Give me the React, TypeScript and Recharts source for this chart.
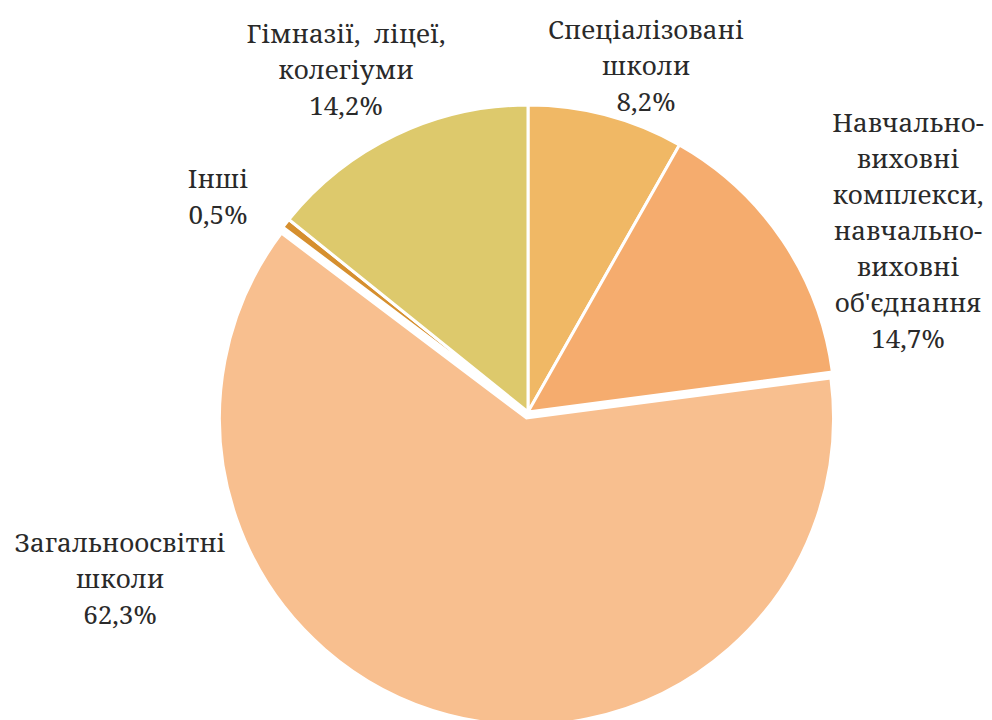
import { PieChart, Pie, Cell } from "recharts";

// Data (clockwise from 12 o'clock)
const categories = [
  "Спеціалізовані школи",
  "Навчально-виховні комплекси, навчально-виховні об'єднання",
  "Загальноосвітні школи",
  "Інші",
  "Гімназії, ліцеї, колегіуми",
];
const shares = [8.2, 14.7, 62.3, 0.5, 14.2];

// Label text broken into lines as in the original
const labelLines = [
  ["Спеціалізовані", "школи"],
  ["Навчально-", "виховні", "комплекси,", "навчально-", "виховні", "об'єднання"],
  ["Загальноосвітні", "школи"],
  ["Інші"],
  ["Гімназії,  ліцеї,", "колегіуми"],
];

const COLORS = ["#F0B865", "#F5AC6E", "#F8BF8F", "#D68F2E", "#DDC96C"];

// Label anchors relative to pie centre (layout only)
const LABEL_OFFSETS = [
  { dx: 118, dy: -373 },
  { dx: 380, dy: -280 },
  { dx: -408, dy: 140 },
  { dx: -310, dy: -224 },
  { dx: -182, dy: -369 },
];

const EXPLODED = 2; // index of the pulled-out slice

const data = categories.map((name, i) => ({ name, value: shares[i] }));

const fmt = (v: number) => v.toFixed(1).replace(".", ",") + "%";

const LINE_H = 36;
const FONT = "'Noto Serif', 'DejaVu Serif', serif";

const renderLabel = (props: any) => {
  const { cx, cy, index } = props;
  const off = LABEL_OFFSETS[index];
  const lines = [...labelLines[index], fmt(shares[index])];
  const x = cx + off.dx;
  const y = cy + off.dy;
  return (
    <text
      key={`lbl-${index}`}
      x={x}
      y={y}
      textAnchor="middle"
      fill="#2a2a2a"
      style={{ fontFamily: FONT, fontSize: 26 }}
    >
      {lines.map((l, j) => (
        <tspan key={j} x={x} y={y + j * LINE_H} style={{ whiteSpace: "pre" }}>
          {l}
        </tspan>
      ))}
    </text>
  );
};

export default function App() {
  return (
    <div style={{ position: "absolute", left: 0, top: 0, background: "#fff" }}>
      <PieChart width={992} height={720} margin={{ top: 0, right: 0, bottom: 0, left: 0 }}>
        <Pie
          data={data}
          dataKey="value"
          cx={528}
          cy={412}
          outerRadius={307}
          startAngle={90}
          endAngle={-270}
          stroke="#fff"
          strokeWidth={3}
          label={renderLabel}
          labelLine={false}
          isAnimationActive={false}
        >
          {data.map((_, i) => (
            <Cell
              key={`c-${i}`}
              fill={i === EXPLODED ? "none" : COLORS[i]}
              stroke={i === EXPLODED ? "none" : "#fff"}
            />
          ))}
        </Pie>
        <Pie
          data={data}
          dataKey="value"
          cx={526.5}
          cy={418}
          outerRadius={307}
          startAngle={90}
          endAngle={-270}
          stroke="#fff"
          strokeWidth={3}
          isAnimationActive={false}
        >
          {data.map((_, i) => (
            <Cell
              key={`e-${i}`}
              fill={i === EXPLODED ? COLORS[i] : "none"}
              stroke={i === EXPLODED ? "#fff" : "none"}
            />
          ))}
        </Pie>
      </PieChart>
    </div>
  );
}
